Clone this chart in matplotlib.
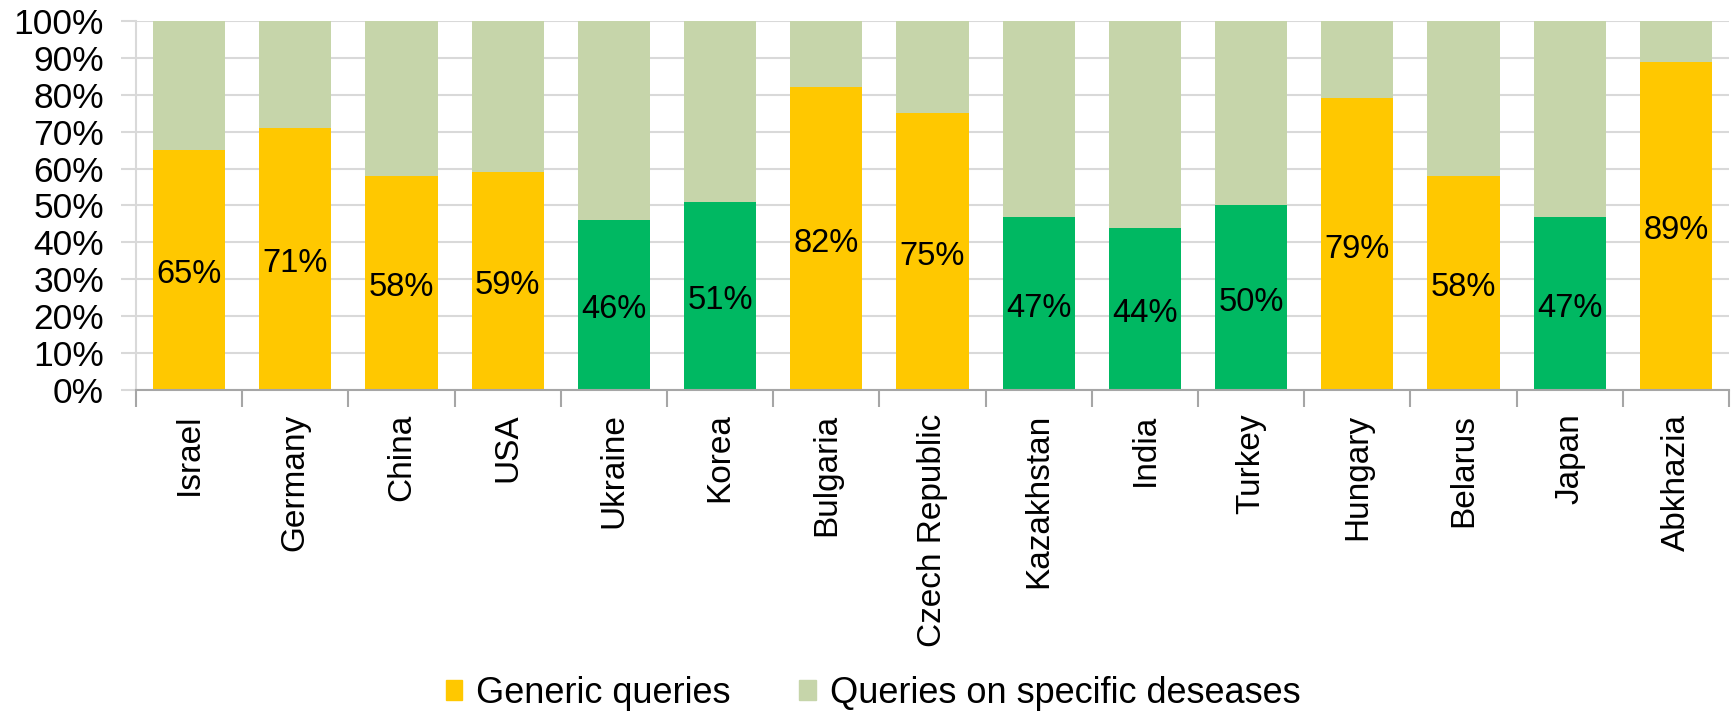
import numpy as np
import matplotlib
matplotlib.use("Agg")
import matplotlib.pyplot as plt
from matplotlib.ticker import PercentFormatter, FixedLocator

plt.rcParams['font.family'] = ['Liberation Sans', 'DejaVu Sans']

countries = ['Israel', 'Germany', 'China', 'USA', 'Ukraine', 'Korea', 'Bulgaria',
             'Czech Republic', 'Kazakhstan', 'India', 'Turkey', 'Hungary',
             'Belarus', 'Japan', 'Abkhazia']
generic = [65, 71, 58, 59, 46, 51, 82, 75, 47, 44, 50, 79, 58, 47, 89]
specific = [100 - g for g in generic]
highlighted = ['Ukraine', 'Korea', 'Kazakhstan', 'India', 'Turkey', 'Japan']

YELLOW = '#FFC800'
GREEN = '#00B862'
LIGHT = '#C6D5AA'

fig = plt.figure(figsize=(17.36, 7.11), dpi=100)
ax = fig.add_axes([0.0783, 0.4515, 0.9177, 0.519])

x = np.arange(len(countries))
colors = [GREEN if c in highlighted else YELLOW for c in countries]
ax.bar(x, generic, width=0.68, color=colors, zorder=2)
ax.bar(x, specific, width=0.68, bottom=generic, color=LIGHT, zorder=2)

for xi, g in zip(x, generic):
    ax.text(xi, g / 2 - 1.3, f'{g}%', ha='center', va='center', fontsize=23.5, zorder=3)

ax.set_xlim(-0.5, len(countries) - 0.5)
ax.set_ylim(0, 100)
ax.set_yticks(np.arange(0, 101, 10))
ax.yaxis.set_major_formatter(PercentFormatter(decimals=0))
ax.grid(axis='y', color='#D9D9D9', linewidth=1.5, zorder=0)

ax.set_xticks(x)
ax.set_xticklabels(countries, rotation=90)
ax.xaxis.set_minor_locator(FixedLocator(np.arange(-0.5, len(countries), 1)))
ax.tick_params(axis='x', which='major', length=0, pad=17, labelsize=24)
ax.tick_params(axis='x', which='minor', length=12, width=1.5, color='#A6A6A6')
ax.tick_params(axis='y', length=11, width=1.5, color='#D9D9D9', pad=12, labelsize=25.5)

for s in ['top', 'right']:
    ax.spines[s].set_visible(False)
ax.spines['left'].set_color('#D9D9D9')
ax.spines['left'].set_linewidth(1.5)
ax.spines['bottom'].set_color('#A6A6A6')
ax.spines['bottom'].set_linewidth(1.5)
ax.spines['bottom'].set_zorder(4)

fig.legend([plt.Rectangle((0, 0), 1, 1, color=YELLOW),
            plt.Rectangle((0, 0), 1, 1, color=LIGHT)],
           ['Generic queries', 'Queries on specific deseases'],
           loc='center', bbox_to_anchor=(0.503, 0.025), ncol=2,
           frameon=False, fontsize=26, handlelength=0.45, handleheight=0.45,
           handletextpad=0.4, columnspacing=1.9)

fig.savefig('out.png', dpi=100)
